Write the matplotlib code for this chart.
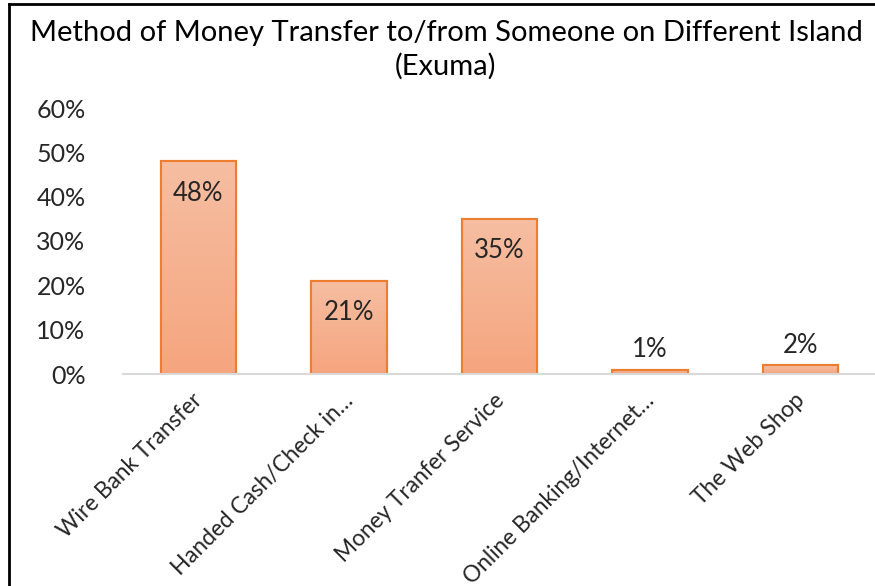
import matplotlib
matplotlib.use("Agg")
import matplotlib.pyplot as plt
import numpy as np
from matplotlib.colors import LinearSegmentedColormap
from matplotlib.patches import Rectangle
from matplotlib.lines import Line2D
import matplotlib.transforms as mtransforms

categories = ["Wire Bank Transfer", "Handed Cash/Check in\u2026", "Money Tranfer Service",
              "Online Banking/Internet\u2026", "The Web Shop"]
values = [0.48, 0.21, 0.35, 0.01, 0.02]
yticks = [0, 0.1, 0.2, 0.3, 0.4, 0.5, 0.6]
title = "Method of Money Transfer to/from Someone on Different Island\n(Exuma)"

plt.rcParams['font.family'] = ['Lato', 'DejaVu Sans']

W, H = 875, 586
fig = plt.figure(figsize=(W/100, H/100), dpi=100)
ax = fig.add_axes([123/W, 1-374/H, (876-123)/W, (374-108)/H])

x = np.arange(len(categories))
bars = ax.bar(x, values, width=0.5, color='#F5AE8C', edgecolor='#ED7D31', linewidth=1.5, zorder=2)

cmap = LinearSegmentedColormap.from_list('g', ['#F5A57E', '#F6BEA2'])
grad = np.linspace(0, 1, 256).reshape(-1, 1)
for b in bars:
    bx, by = b.get_x(), b.get_y()
    bw, bh = b.get_width(), b.get_height()
    im = ax.imshow(grad, cmap=cmap, aspect='auto', origin='lower',
                   extent=[bx, bx+bw, by, by+bh], zorder=2.5)
    im.set_clip_path(b)
    r = Rectangle((bx, by), bw, bh, fill=False, edgecolor='#ED7D31', linewidth=1.5, zorder=3)
    ax.add_patch(r)

ax.set_xlim(-0.5, len(categories)-0.5)
ax.set_ylim(0, 0.6)
ax.set_yticks(yticks)
ax.set_yticklabels([f"{int(round(t*100))}%" for t in yticks], fontsize=18, color='#262626')
ax.set_xticks(x)
ax.set_xticklabels(categories, rotation=45, ha='right', va='center', rotation_mode='anchor',
                   fontsize=16.3, color='#262626')
ax.tick_params(axis='both', length=0)
ax.tick_params(axis='y', pad=27)
ax.tick_params(axis='x', pad=0)
offset = mtransforms.ScaledTranslation(1/100, -23/100, fig.dpi_scale_trans)
for lab in ax.get_xticklabels():
    lab.set_transform(lab.get_transform() + offset)
for s in ['top', 'right', 'left']:
    ax.spines[s].set_visible(False)
ax.spines['bottom'].set_color('#D9D9D9')
ax.spines['bottom'].set_linewidth(1.5)
ax.spines['bottom'].set_zorder(4)

for xi, v in zip(x, values):
    dy = -32 if v > 0.05 else 20
    ax.annotate(f"{int(round(v*100))}%", (xi, v), xytext=(0, dy), textcoords='offset pixels',
                ha='center', va='center', fontsize=18.5, color='#262626', zorder=5)

fig.text(446/W, 1-50/H, title, ha='center', va='center', fontsize=21, color='black', linespacing=1.3)

fig.add_artist(Line2D([9/W, 9/W], [0, 1-4/H], color='black', linewidth=2, transform=fig.transFigure))
fig.add_artist(Line2D([9/W, 1], [1-4/H, 1-4/H], color='black', linewidth=2, transform=fig.transFigure))

fig.savefig("out.png", dpi=100)
